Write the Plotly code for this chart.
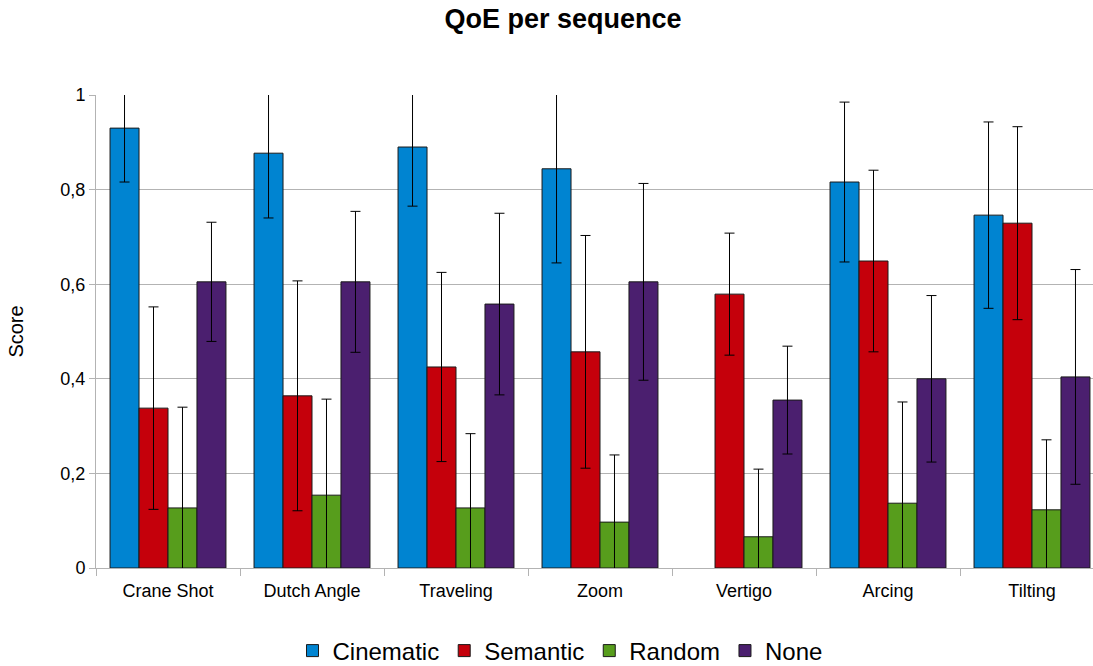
import plotly.graph_objects as go

categories = ["Crane Shot", "Dutch Angle", "Traveling", "Zoom", "Vertigo", "Arcing", "Tilting"]

cinematic = [0.930, 0.877, 0.890, 0.844, None, 0.816, 0.746]
cinematic_err = [0.114, 0.137, 0.125, 0.199, None, 0.169, 0.197]

semantic = [0.338, 0.364, 0.425, 0.457, 0.579, 0.649, 0.729]
semantic_err = [0.214, 0.243, 0.200, 0.246, 0.129, 0.192, 0.204]

random_ = [0.127, 0.154, 0.127, 0.097, 0.066, 0.137, 0.123]
random_err = [0.213, 0.203, 0.157, 0.142, 0.143, 0.214, 0.148]

none_ = [0.605, 0.605, 0.558, 0.605, 0.355, 0.400, 0.404]
none_err = [0.126, 0.149, 0.192, 0.208, 0.114, 0.176, 0.227]

y_ticks = [0, 0.2, 0.4, 0.6, 0.8, 1]

series = [
    ("Cinematic", cinematic, cinematic_err, "#0084d1"),
    ("Semantic", semantic, semantic_err, "#c5000b"),
    ("Random", random_, random_err, "#579d1c"),
    ("None", none_, none_err, "#4b1f6f"),
]

FONT = "Liberation Sans, Arial, sans-serif"
W, H = 1093, 666

fig = go.Figure()
for name, vals, errs, color in series:
    fig.add_trace(go.Bar(
        name=name, x=categories, y=vals,
        marker=dict(color=color, line=dict(color="#1a1a1a", width=1)),
        error_y=dict(type="data", array=errs, visible=True,
                     color="#000000", thickness=1, width=5),
    ))

fig.update_layout(
    width=W, height=H,
    barmode="group", bargap=0.195, bargroupgap=0,
    separators=",.",
    plot_bgcolor="white", paper_bgcolor="white",
    font=dict(family=FONT, size=18, color="#000000"),
    margin=dict(l=96, r=0, t=95, b=98),
    title=dict(text="<b>QoE per sequence</b>", x=563 / W, xref="container", xanchor="center",
               y=1 - 19 / H, yref="container", yanchor="middle",
               font=dict(family=FONT, size=27, color="#000000")),
    showlegend=True,
    legend=dict(orientation="h", x=560 / W, xref="container", xanchor="center",
                y=1 - 651 / H, yref="container", yanchor="middle",
                font=dict(family=FONT, size=24), itemwidth=30,
                traceorder="normal"),
)

fig.update_xaxes(
    range=[-0.5, -0.5 + 997 / 144],
    showgrid=False, showline=True, linecolor="#b3b3b3", linewidth=1,
    ticks="outside", tickson="boundaries", ticklen=7, tickcolor="#b3b3b3",
    tickfont=dict(family=FONT, size=18), ticklabelstandoff=6,
)
fig.update_yaxes(
    range=[0, 1], tickvals=y_ticks, tickformat="~g",
    showgrid=True, gridcolor="#b3b3b3", gridwidth=1,
    showline=True, linecolor="#b3b3b3", linewidth=1,
    ticks="outside", ticklen=6, tickcolor="#b3b3b3",
    tickfont=dict(family=FONT, size=18),
    zeroline=False,
    title=dict(text="Score", font=dict(family=FONT, size=20), standoff=31),
)

fig.write_html("out.html",
               config={"displayModeBar": False},
               post_script="document.body.style.margin='0';document.body.style.overflow='hidden';")
